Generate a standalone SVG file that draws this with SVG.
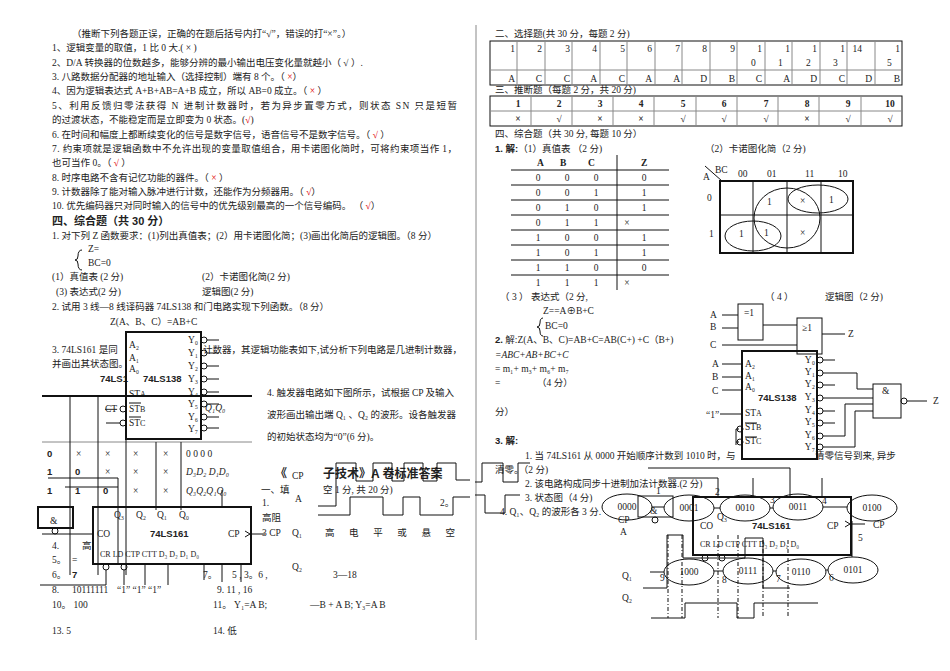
<svg xmlns="http://www.w3.org/2000/svg" width="950" height="671" viewBox="0 0 950 671">
<style>
text{font-family:"Liberation Serif","Noto Sans CJK SC",serif;font-size:9.5px;fill:#222}
.b{font-weight:bold;font-family:"Liberation Sans","Noto Sans CJK SC",sans-serif}
.r{fill:#e00000}
.l{stroke:#111;fill:none;stroke-width:1}
.t{stroke:#111;fill:none;stroke-width:2}
.g{stroke:#888;fill:none;stroke-width:1}
.d{stroke:#111;fill:none;stroke-dasharray:4 2 1 2}
.s{font-size:8px}
</style>
<rect width="950" height="671" fill="#fff"/>
<line x1="476" y1="25" x2="476" y2="640" class="g"/>
<g id="left-text">
<text x="72" y="37">（推断下列各题正误，正确的在题后括号内打“√”，错误的打“×”。）</text>
<text x="52" y="51">1、逻辑变量的取值，1 比 0 大.( × )</text>
<text x="52" y="66">2、D/A 转换器的位数越多，能够分辨的最小输出电压变化量就越小（ √ ）.</text>
<text x="52" y="80">3. 八路数据分配器的地址输入（选择控制）端有 8 个。（ <tspan class="r">×</tspan>）</text>
<text x="52" y="94">4、因为逻辑表达式 A+B+AB=A+B 成立，所以 AB=0 成立。（        <tspan class="r">×</tspan>    ）</text>
<text x="52" y="109" textLength="405">5、利用反馈归零法获得 N 进制计数器时，若为异步置零方式，则状态 SN 只是短暂</text>
<text x="52" y="123">的过渡状态，不能稳定而是立即变为 0 状态。(<tspan class="r">√</tspan>)</text>
<text x="52" y="138">6. 在时间和幅度上都断续变化的信号是数字信号，语音信号不是数字信号。（ <tspan class="r">√</tspan> ）</text>
<text x="52" y="152" textLength="405">7. 约束项就是逻辑函数中不允许出现的变量取值组合，用卡诺图化简时，可将约束项当作 1，</text>
<text x="52" y="166">也可当作 0。（  <tspan class="r">√</tspan>  ）</text>
<text x="52" y="181">8. 时序电路不含有记忆功能的器件。（  <tspan class="r">×</tspan>  ）</text>
<text x="52" y="195">9. 计数器除了能对输入脉冲进行计数，还能作为分频器用。（   <tspan class="r">√</tspan>）</text>
<text x="52" y="209">10. 优先编码器只对同时输入的信号中的优先级别最高的一个信号编码。 （  <tspan class="r">√</tspan>）</text>
<text x="52" y="225" class="b" style="font-size:11px">四、综合题（共 30 分）</text>
<text x="52" y="239">1. 对下列 Z 函数要求：(1)列出真值表；(2）用卡诺图化简；(3)画出化简后的逻辑图。（8 分）</text>
<text x="88" y="252">Z=</text>
<path d="M82 250 q-4 0 -4 6 q0 4 -3 4 q3 0 3 4 q0 6 4 6" class="l"/>
<text x="88" y="266">BC=0</text>
<text x="52" y="280">(1）真值表 (2 分)</text><text x="202" y="280">(2）卡诺图化简(2 分)</text>
<text x="56" y="295">(3)   表达式(2 分)</text><text x="202" y="295">逻辑图(2 分)</text>
<text x="52" y="310">2. 试用 3 线—8 线译码器 74LS138 和门电路实现下列函数。（8 分）</text>
<text x="110" y="325">Z(A、B、C）=AB+C</text>
<text x="52" y="353">3. 74LS161 是同</text><text x="203" y="353">计数器，其逻辑功能表如下,试分析下列电路是几进制计数器，</text>
<text x="52" y="367">并画出其状态图。</text>
<text x="100" y="382" class="b">74LS1</text>
<text x="267" y="396">4. 触发器电路如下图所示，试根据 CP 及输入</text>
<text x="267" y="418">波形画出输出端 Q₁ 、Q₂ 的波形。设各触发器</text>
<text x="267" y="440">的初始状态均为“0”(6 分)。</text>
</g>
<g id="dec138-left">
<rect x="126" y="332" width="75" height="107" class="t"/>
<text x="129" y="348">A₂</text><text x="129" y="361">A₁</text><text x="129" y="372">A₀</text>
<text x="143" y="382" class="b">74LS138</text>
<text x="129" y="397">ST<tspan class="s">A</tspan></text><text x="129" y="412">ST<tspan class="s">B</tspan></text><text x="129" y="426">ST<tspan class="s">C</tspan></text>
<line x1="129" y1="403" x2="141" y2="403" class="l"/><line x1="129" y1="417" x2="141" y2="417" class="l"/>
<g class="l">
<circle cx="204" cy="340" r="3"/><circle cx="204" cy="353" r="3"/><circle cx="204" cy="366" r="3"/><circle cx="204" cy="379" r="3"/><circle cx="204" cy="392" r="3"/><circle cx="204" cy="404" r="3"/><circle cx="204" cy="417" r="3"/><circle cx="204" cy="428" r="3"/>
<path d="M207 340h12M207 353h12M207 366h12M207 379h12M207 392h12M207 404h12M207 417h12M207 428h12"/>
<circle cx="123" cy="409" r="3"/><circle cx="123" cy="423" r="3"/><path d="M106 423h14"/>
</g>
<text x="188" y="343">Y₀</text><text x="188" y="356">Y₁</text><text x="188" y="369">Y₂</text><text x="188" y="382">Y₃</text><text x="188" y="395">Y₄</text><text x="188" y="407">Y₅</text><text x="188" y="420">Y₆</text><text x="188" y="432">Y₇</text>
<text x="205" y="411" style="font-style:italic">Q₁Q₀</text>
<text x="105" y="412" style="text-decoration:line-through">CT</text>
</g>
<g id="func-table">
<line x1="42" y1="396" x2="252" y2="396" class="t"/>
<line x1="42" y1="442" x2="252" y2="442" class="g"/>
<path d="M70 396V575M98 396V575M126 439V575M156 442V510M181 442V510" class="l"/>
<text x="47" y="457" class="b">0</text><text x="76" y="457">×</text><text x="105" y="457">×</text><text x="133" y="457">×</text><text x="163" y="457">×</text><text x="186" y="457">0  0  0  0</text>
<text x="47" y="475" class="b">1</text><text x="75" y="475" class="b">0</text><text x="105" y="475">×</text><text x="133" y="475">×</text><text x="163" y="475">×</text><text x="186" y="475" style="font-style:italic">D₃D₂ D₁D₀</text>
<text x="47" y="494" class="b">1</text><text x="75" y="494" class="b">1</text><text x="103" y="494" class="b">0</text><text x="133" y="494">×</text><text x="163" y="494">×</text><text x="186" y="494" style="font-style:italic">Q₃Q₂Q₁Q₀</text>
</g>
<g id="and-left">
<rect x="38" y="507" width="35" height="21" class="t"/>
<text x="50" y="524">&amp;</text>
<circle cx="55" cy="531" r="3" class="l"/>
<path d="M48 478H118V564M65 487H118" class="l"/>
</g>
<g id="c161-left">
<rect x="93" y="507" width="158" height="57" class="t"/>
<text x="114" y="518">Q₃</text><text x="136" y="518">Q₂</text><text x="157" y="518">Q₁</text><text x="179" y="518">Q₀</text>
<text x="97" y="537">CO</text><text x="150" y="537" class="b">74LS161</text><text x="228" y="537">CP</text>
<text x="100" y="557" style="font-size:8px">CR LD CT<tspan class="s">P</tspan> CT<tspan class="s">T</tspan> D₃ D₂ D₁ D₀</text>
<circle cx="106" cy="567" r="3" class="l"/><circle cx="124" cy="567" r="3" class="l"/>
<path d="M245 531l5 3l-5 3M250 534h15M42 534h51M106 570V585H40M124 570V585M145 564V585M168 564V585M204 564V580M222 564V582M241 564V582M222 507V490" class="l"/>
</g>
<g id="fill-answers">
<text x="52" y="549">4.</text><text x="82" y="549">高</text>
<text x="52" y="563">5。</text><text x="72" y="563">=</text>
<text x="52" y="578">6。</text><text x="72" y="578" class="b">7</text>
<text x="203" y="578">7。</text><text x="232" y="578">5 ,   3。6 ,</text><text x="333" y="578">3—18</text>
<text x="52" y="593">8.</text><text x="72" y="593">10111111</text><text x="117" y="593">“1”  “1”  “1”</text>
<text x="217" y="593">9.  11 , 16</text>
<text x="52" y="608">10。  100</text><text x="213" y="608">11。 Y₁=A B;</text><text x="310" y="608">—B + A B; Y₃=A B</text>
<text x="52" y="634">13.  5</text><text x="213" y="634">14.  低</text>
<text x="275" y="478" class="b" style="font-size:12px">《</text>
<text x="323" y="478" class="b" style="font-size:12px">子技术》A 卷标准答案</text>
<text x="261" y="493">一、填</text><text x="323" y="493">空 1 分, 共 20 分)</text>
<text x="262" y="506">1.</text><text x="440" y="506">2。</text>
<text x="262" y="521">高阻</text><text x="262" y="536">3  CP</text>
<text x="325" y="536" textLength="130">高 电 平 或 悬 空</text>
</g>
<g id="waves-left">
<text x="292" y="479">CP</text><text x="295" y="502">A</text><text x="292" y="536">Q₁</text><text x="292" y="570">Q₂</text>
<path d="M318 506H336V463H356V481H373V463H392V481H404V463H423V481H437V463H456V480H470" class="l"/>
<path d="M318 515H350V497H383V515H403V497H420V515H453V497H470" class="l"/>
</g>
<g id="choice-table">
<text x="495" y="37">二、选择题(共 30 分，每题 2 分)</text>
<rect x="490" y="41" width="412" height="44" class="l"/>
<path d="M490 70H902M517 41V85M545 41V85M572 41V85M600 41V85M627 41V85M655 41V85M682 41V85M710 41V85M737 41V85M765 41V85M792 41V85M820 41V85M847 41V85M875 41V85" class="g"/>
<g text-anchor="end">
<text x="515" y="52">1</text><text x="542" y="52">2</text><text x="570" y="52">3</text><text x="597" y="52">4</text><text x="625" y="52">5</text><text x="652" y="52">6</text><text x="680" y="52">7</text><text x="707" y="52">8</text><text x="735" y="52">9</text><text x="762" y="52">1</text><text x="790" y="52">1</text><text x="817" y="52">1</text><text x="845" y="52">1</text><text x="862" y="52">14</text><text x="900" y="52">1</text>
<text x="515" y="82">A</text><text x="542" y="82">C</text><text x="570" y="82">C</text><text x="597" y="82">A</text><text x="625" y="82">C</text><text x="652" y="82">A</text><text x="680" y="82">A</text><text x="707" y="82">D</text><text x="735" y="82">B</text><text x="762" y="82">C</text><text x="790" y="82">A</text><text x="817" y="82">D</text><text x="845" y="82">C</text><text x="872" y="82">D</text><text x="900" y="82">B</text>
</g>
<text x="751" y="66">0</text><text x="778" y="66">1</text><text x="806" y="66">2</text><text x="833" y="66">3</text><text x="887" y="66">5</text>
<text x="495" y="93">三、推断题（每题 2 分，共 20 分)</text>
<rect x="490" y="96" width="412" height="30" class="l"/>
<path d="M490 111H902M531 96V126M572 96V126M613 96V126M654 96V126M696 96V126M737 96V126M778 96V126M819 96V126M861 96V126" class="g"/>
<g class="b" text-anchor="middle">
<text x="518" y="107">1</text><text x="559" y="107">2</text><text x="600" y="107">3</text><text x="641" y="107">4</text><text x="683" y="107">5</text><text x="724" y="107">6</text><text x="766" y="107">7</text><text x="807" y="107">8</text><text x="848" y="107">9</text><text x="890" y="107">10</text>
<text x="518" y="122">×</text><text x="559" y="122">√</text><text x="600" y="122">×</text><text x="641" y="122">×</text><text x="683" y="122">√</text><text x="724" y="122">√</text><text x="766" y="122">√</text><text x="807" y="122">×</text><text x="848" y="122">√</text><text x="890" y="122">√</text>
</g>
<text x="495" y="137">四、综合题（共 30 分, 每题 10 分）</text>
<text x="495" y="152"><tspan class="b">1. 解:</tspan>（1）真值表 （2 分)</text>
<text x="705" y="152">（2）卡诺图化简（2 分)</text>
</g>
<g id="truth-table">
<line x1="617" y1="155" x2="617" y2="290" class="l"/>
<path d="M511 170H669M511 185H669M511 200H669M511 215H669M511 230H669M511 245H669M511 260H669M511 275H669" class="l"/>
<g class="b"><text x="537" y="166">A</text><text x="560" y="166">B</text><text x="588" y="166">C</text><text x="641" y="166">Z</text></g>
<g text-anchor="middle">
<text x="538" y="181">0</text><text x="567" y="181">0</text><text x="596" y="181">0</text><text x="644" y="181">0</text>
<text x="538" y="196">0</text><text x="567" y="196">0</text><text x="596" y="196">1</text><text x="644" y="196">1</text>
<text x="538" y="211">0</text><text x="567" y="211">1</text><text x="596" y="211">0</text><text x="644" y="211">1</text>
<text x="538" y="226">0</text><text x="567" y="226">1</text><text x="596" y="226">1</text><text x="627" y="226">×</text>
<text x="538" y="241">1</text><text x="567" y="241">0</text><text x="596" y="241">0</text><text x="644" y="241">1</text>
<text x="538" y="256">1</text><text x="567" y="256">0</text><text x="596" y="256">1</text><text x="644" y="256">1</text>
<text x="538" y="271">1</text><text x="567" y="271">1</text><text x="596" y="271">0</text><text x="644" y="271">0</text>
<text x="538" y="286">1</text><text x="567" y="286">1</text><text x="596" y="286">1</text><text x="627" y="286">×</text>
</g>
</g>
<g id="kmap">
<rect x="720" y="181" width="133" height="72" class="t"/>
<path d="M720 215H853M753 181V253M787 181V253M821 181V253M705 166L722 181" class="l"/>
<text x="715" y="173">BC</text><text x="703" y="180">A</text>
<text x="738" y="177">00</text><text x="767" y="177">01</text><text x="805" y="177">11</text><text x="838" y="177">10</text>
<text x="707" y="201">0</text><text x="709" y="237">1</text>
<text x="767" y="205">1</text><text x="800" y="204">×</text><text x="829" y="203">1</text>
<text x="739" y="237">1</text><text x="764" y="236">1</text><text x="800" y="236">×</text>
<ellipse cx="787" cy="218" rx="33" ry="30" class="l"/>
<ellipse cx="818" cy="199" rx="30" ry="14" class="l"/>
<ellipse cx="753" cy="236" rx="28" ry="15" class="l"/>
</g>
<g id="right-answers">
<text x="500" y="300">（ 3 ）    表达式（2 分,</text>
<text x="765" y="300">（ 4 ）</text><text x="825" y="300">逻辑图（2 分)</text>
<text x="543" y="314">Z==A⊕B+C</text>
<path d="M543 318q-3 0 -3 5q0 4 -3 4q3 0 3 4q0 5 3 5" class="l"/>
<text x="545" y="329">BC=0</text>
<text x="495" y="343"><tspan class="b">2.</tspan>   解:Z(A、B、C)=AB+C=AB(C+) +C（B+)</text>
<text x="495" y="358" style="font-style:italic">=ABC+AB+BC+C</text>
<text x="495" y="372">=  m₁+  m₃+  m₆+  m₇</text>
<text x="495" y="386">=</text><text x="537" y="386">（4 分）</text>
<text x="495" y="415">分）</text>
<text x="495" y="444" class="b">3. 解:</text>
<text x="525" y="459">1. 当 74LS161 从 0000 开始顺序计数到 1010 时，与</text><text x="815" y="459">清零信号到来, 异步</text>
<text x="495" y="473">清零。（2 分)</text>
<text x="525" y="487">2. 该电路构成同步十进制加法计数器.(2 分)</text>
<text x="525" y="501">3. 状态图（4 分)</text>
<text x="500" y="515">4. Q₁、Q₂ 的波形各 3 分.</text>
</g>
<g id="logic-right">
<rect x="738" y="304" width="25" height="36" class="l"/><text x="744" y="316">=1</text>
<rect x="797" y="318" width="25" height="36" class="l"/><text x="802" y="331">≥1</text>
<text x="710" y="318">A</text><text x="710" y="330">B</text><text x="710" y="348">C</text><text x="848" y="337">Z</text>
<path d="M722 315H738M722 328H738M763 325H797M722 345H797M822 334H845" class="l"/>
<rect x="742" y="351" width="75" height="108" class="t"/>
<text x="745" y="367">A₂</text><text x="745" y="379">A₁</text><text x="745" y="390">A₀</text>
<text x="758" y="401" class="b">74LS138</text>
<text x="745" y="416">ST<tspan class="s">A</tspan></text><text x="745" y="430">ST<tspan class="s">B</tspan></text><text x="745" y="444">ST<tspan class="s">C</tspan></text>
<text x="712" y="367">A</text><text x="712" y="380">B</text><text x="712" y="394">C</text><text x="706" y="418">“1”</text>
<path d="M722 364H742M722 377H742M722 390H742M720 414H742M745 423H757M745 437H757M736 429V445M736 429H739M736 442H739" class="l"/>
<circle cx="740" cy="429" r="3" class="l"/><circle cx="740" cy="442" r="3" class="l"/>
<g text-anchor="end"><text x="815" y="363">Y₀</text><text x="815" y="375">Y₁</text><text x="815" y="387">Y₂</text><text x="815" y="400">Y₃</text><text x="815" y="413">Y₄</text><text x="815" y="425">Y₅</text><text x="815" y="438">Y₆</text><text x="815" y="450">Y₇</text></g>
<g class="l">
<circle cx="820" cy="360" r="3"/><circle cx="820" cy="373" r="3"/><circle cx="820" cy="385" r="3"/><circle cx="820" cy="398" r="3"/><circle cx="820" cy="411" r="3"/><circle cx="820" cy="423" r="3"/><circle cx="820" cy="436" r="3"/><circle cx="820" cy="447" r="3"/>
<path d="M823 360h12M823 385h12M823 411h12M823 423h12M823 373H857V389H873M823 398H873M823 436H845V404H873M823 447H855V411H873"/>
<rect x="873" y="384" width="28" height="34"/>
<circle cx="904" cy="401" r="3"/><path d="M907 401H927"/>
</g>
<text x="882" y="394">&amp;</text><text x="933" y="404">Z</text>
</g>
<g id="c161-right">
<rect x="693" y="497" width="158" height="58" class="t"/>
<text x="717" y="520">Q₃</text><text x="700" y="529">CO</text><text x="752" y="529" class="b">74LS161</text><text x="827" y="529">CP</text>
<text x="700" y="547" style="font-size:8px">CR LD CT<tspan class="s">P</tspan> CT<tspan class="s">T</tspan> D₃ D₂ D₁ D₀</text>
<circle cx="705" cy="558" r="3" class="l"/><circle cx="722" cy="558" r="3" class="l"/>
<path d="M845 521l5 3l-5 3M850 524h15M648 468H790V497M668 478H718V497M753 478V497M822 478V497" class="l"/>
<text x="873" y="528">CP</text>
<rect x="638" y="496" width="35" height="21" class="l"/><text x="650" y="514">&amp;</text>
<circle cx="655" cy="520" r="3" class="l"/>
</g>
<g id="state-diagram">
<g class="l">
<ellipse cx="627" cy="507" rx="25" ry="13"/><ellipse cx="689" cy="508" rx="25" ry="13"/><ellipse cx="745" cy="508" rx="25" ry="13"/><ellipse cx="798" cy="507" rx="25" ry="13"/><ellipse cx="872" cy="508" rx="25" ry="13"/>
<ellipse cx="853" cy="570" rx="25" ry="13"/><ellipse cx="801" cy="572" rx="25" ry="13"/><ellipse cx="748" cy="571" rx="25" ry="13"/><ellipse cx="689" cy="572" rx="25" ry="13"/>
<path d="M652 507H664M714 508H720M770 508H773M823 507H847M852 521V557M828 570H826M776 571H773M723 571H714M664 572H650"/>
</g>
<g text-anchor="middle">
<text x="627" y="510">0000</text><text x="689" y="511">0001</text><text x="745" y="511">0010</text><text x="798" y="510">0011</text><text x="872" y="511">0100</text>
<text x="853" y="573">0101</text><text x="801" y="575">0110</text><text x="748" y="574">0111</text><text x="689" y="575">1000</text>
</g>
<text x="656" y="494">1</text><text x="715" y="495">2</text><text x="770" y="503">3</text><text x="822" y="504">4</text><text x="858" y="541">5</text><text x="829" y="581">6</text><text x="776" y="582">7</text><text x="722" y="583">8</text><text x="660" y="581">9</text>
</g>
<g id="waves-right">
<text x="618" y="523">CP</text><text x="620" y="535">A</text><text x="622" y="579">Q₁</text><text x="622" y="601">Q₂</text>
<path d="M475 482H482V463H503V482H518V463H530" class="l"/>
<path d="M475 495H485V513H505V495H520" class="l"/>
<path d="M643 588H667V535H683V558H745V538H763V588H790" class="l"/>
<path d="M651 618H685V603H737V618H754V603H818" class="l"/>
<path d="M668 535V618M682 535V618M718 535V618M738 535V618M763 540V618M788 540V618" class="d"/>
</g>
</svg>
